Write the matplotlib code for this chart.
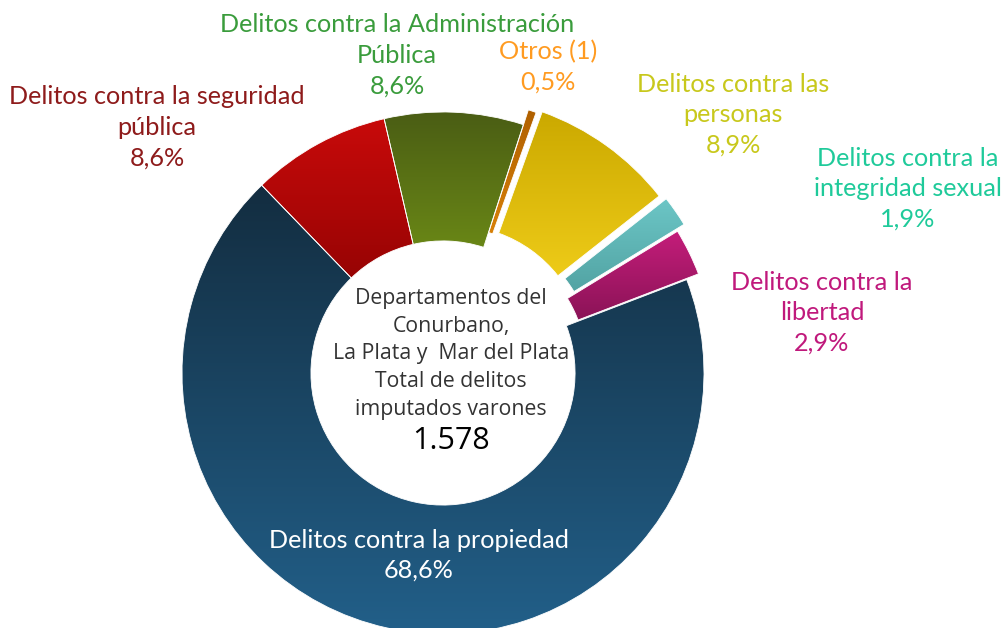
import numpy as np
import matplotlib.pyplot as plt
from matplotlib.colors import to_rgb

# Datos del grafico
categorias = ["Delitos contra la seguridad\npública",
              "Delitos contra la Administración\nPública",
              "Otros (1)",
              "Delitos contra las\npersonas",
              "Delitos contra la\nintegridad sexual",
              "Delitos contra la\nlibertad",
              "Delitos contra la propiedad"]
porcentajes = [8.6, 8.6, 0.5, 8.9, 1.9, 2.9, 68.6]
total_imputados = "1.578"
titulo_centro = "Departamentos del\nConurbano,\nLa Plata y  Mar del Plata\nTotal de delitos\nimputados varones"

# degradados (arriba -> abajo) y color de etiqueta
grad_sup = ["#c80a0a", "#4a5d14", "#b06000", "#cba900", "#6cc6c6", "#c41d7a", "#132d40"]
grad_inf = ["#7a0000", "#86ad18", "#ffa010", "#ffdc24", "#3f8a8a", "#6c0e44", "#22608a"]
col_etiq = ["#8e1b1b", "#3a9c3c", "#ff9b21", "#c8c81c", "#1fca9a", "#c0197c", "white"]
separar = [0, 0, 0.06, 0.073, 0.085, 0.05, 0]

W, H = 1008, 628
fig = plt.figure(figsize=(W / 100, H / 100), dpi=100)
ax = fig.add_axes([0, 0, 1, 1])

cx, cy, R = 443, H - 373, 261
wedges, _ = ax.pie(porcentajes, center=(cx, cy), radius=R, startangle=134,
                   counterclock=False, explode=[e * R for e in separar],
                   wedgeprops=dict(width=R * 0.494, edgecolor="white", linewidth=0.6))

for w, c1, c2 in zip(wedges, grad_sup, grad_inf):
    v = w.get_path().vertices
    x0, x1 = v[:, 0].min(), v[:, 0].max()
    y0, y1 = v[:, 1].min(), v[:, 1].max()
    t = np.linspace(0, 1, 256)[:, None]
    img = (1 - t) * np.array(to_rgb(c1)) + t * np.array(to_rgb(c2))
    im = ax.imshow(img[:, None, :], extent=(x0, x1, y0, y1), origin="upper",
                   aspect="auto", interpolation="bilinear", zorder=1)
    im.set_clip_path(w)
    w.set_facecolor("none")
    w.set_zorder(2)

# etiquetas: una linea por texto, posicion de la primera linea (px desde arriba)
fuente = ["Lato", "DejaVu Sans"]
pos_etiq = [(157, 97), (397, 25), (548, 52), (733, 84), (908, 158), (822, 282), (419, 540)]
paso = 30.5
for cat, p, col, (x, y) in zip(categorias, porcentajes, col_etiq, pos_etiq):
    lineas = cat.split("\n") + [f"{p:.1f}%".replace(".", ",")]
    for i, lin in enumerate(lineas):
        ax.text(x, H - (y + i * paso), lin, ha="center", va="center", color=col,
                fontsize=18.2, family=fuente, zorder=5)

ax.text(451, H - 354, titulo_centro, ha="center", va="center", color="#333333",
        fontsize=15.3, family="Open Sans", linespacing=1.43, zorder=5)
ax.text(451, H - 441, total_imputados, ha="center", va="center", color="black",
        fontsize=22, family="Open Sans", zorder=5)

ax.set_xlim(0, W)
ax.set_ylim(0, H)
ax.set_aspect("equal")
ax.axis("off")

fig.savefig("out.png", dpi=100)
